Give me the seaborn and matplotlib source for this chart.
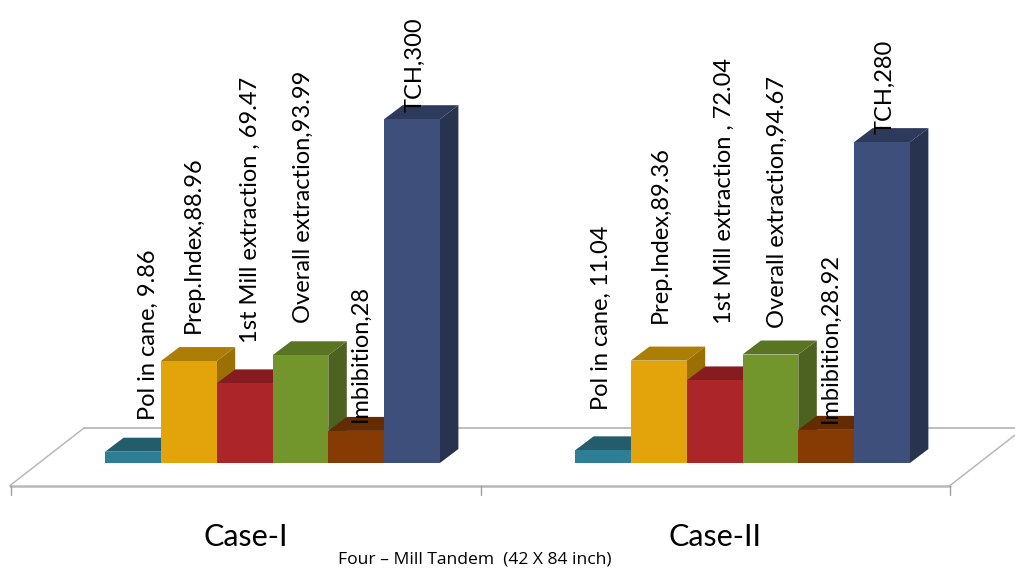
import matplotlib
matplotlib.use("Agg")
import matplotlib.pyplot as plt
from matplotlib.patches import Polygon
import pandas as pd
import seaborn as sns

# Measured series, one list per case
cases = ["Case-I", "Case-II"]
series = ["Pol in cane", "Prep.Index", "1st Mill extraction", "Overall extraction", "Imbibition", "TCH"]
case1_values = [9.86, 88.96, 69.47, 93.99, 28, 300]
case2_values = [11.04, 89.36, 72.04, 94.67, 28.92, 280]
case1_labels = ["Pol in cane, 9.86", "Prep.Index,88.96", "1st Mill extraction , 69.47",
                "Overall extraction,93.99", "Imbibition,28", "TCH,300"]
case2_labels = ["Pol in cane, 11.04", "Prep.Index,89.36", "1st Mill extraction , 72.04",
                "Overall extraction,94.67", "Imbibition,28.92", "TCH,280"]
footer = "Four – Mill Tandem  (42 X 84 inch)"

# Face colours for each series
front_colors = ["#2E7F95", "#E3A30A", "#AC2529", "#72962B", "#873B04", "#3D4F7A"]
top_colors = ["#235D6C", "#AD7E05", "#861C1F", "#5A7522", "#652C03", "#2D3A5C"]
side_colors = ["#1E5060", "#9A7004", "#701719", "#4D6120", "#552402", "#28334F"]

# Pixel layout of the 1015x569 canvas
W, H = 1015, 569
BASE_Y, PX_PER_UNIT = 463.0, 1.146
FIRST_X, GROUP_STEP = 272.5, 470.0
BAR_W = 55.8
DEPTH_X, DEPTH_Y = 18.5, 14.0
label_x = [[148, 193, 250, 303, 360, 415], [601, 660, 724, 777, 830, 885]]
label_bottom = [[420, 333, 343, 323, 422, 112], [410, 323, 324, 328, 423, 134]]


def to_x(px):
    return (px - FIRST_X) / GROUP_STEP


def to_y(py):
    return (BASE_Y - py) / PX_PER_UNIT


plt.rcParams["font.family"] = ["Lato", "DejaVu Sans"]
sns.set_theme(style="white", rc={"font.family": ["Lato", "DejaVu Sans"]})

df = pd.DataFrame({
    "case": [c for c in cases for _ in series],
    "series": series * len(cases),
    "value": case1_values + case2_values,
})

fig = plt.figure(figsize=(W / 100, H / 100), dpi=100)
ax = fig.add_axes([0, 0, 1, 1])
sns.barplot(data=df, x="case", y="value", hue="series", order=cases, hue_order=series,
            palette=front_colors, saturation=1, width=6 * BAR_W / GROUP_STEP,
            dodge=True, gap=0, legend=False, ax=ax, linewidth=0, err_kws={"linewidth": 0})
ax.set_xlim(to_x(0), to_x(W))
ax.set_ylim(to_y(H), to_y(0))
ax.set_axis_off()

# Chart floor in receding perspective, with category ticks along its front edge
floor_color = "#B8B8B8"
ax.plot([to_x(10), to_x(950)], [to_y(485.5)] * 2, color=floor_color, lw=1.8, zorder=1)
ax.plot([to_x(84), to_x(1015)], [to_y(428)] * 2, color=floor_color, lw=1.3, zorder=1)
ax.plot([to_x(10), to_x(84)], [to_y(485.5), to_y(428)], color=floor_color, lw=1.1, zorder=1)
ax.plot([to_x(950), to_x(1015)], [to_y(485.5), to_y(435)], color=floor_color, lw=1.1, zorder=1)
for tick_x in (10.5, 481, 950):
    ax.plot([to_x(tick_x)] * 2, [to_y(485.5), to_y(495)], color="#A0A0A0", lw=1, zorder=1)

# Extrude every bar: side and top faces come from the bar's own geometry
dx = DEPTH_X / GROUP_STEP
dy = DEPTH_Y / PX_PER_UNIT
for i, container in enumerate(ax.containers):
    for bar in container:
        x0, x1 = bar.get_x(), bar.get_x() + bar.get_width()
        h = bar.get_height()
        z = 2 + i
        ax.add_patch(Polygon([(x1, 0), (x1 + dx, dy), (x1 + dx, h + dy), (x1, h)],
                             closed=True, fc=side_colors[i], ec="none", zorder=z))
        ax.add_patch(Polygon([(x0, h), (x0 + dx, h + dy), (x1 + dx, h + dy), (x1, h)],
                             closed=True, fc=top_colors[i], ec="none", zorder=z + 0.1))
        bar.set_zorder(z + 0.2)

# Rotated data labels
for labels, xs, bottoms in zip([case1_labels, case2_labels], label_x, label_bottom):
    for text, px, py in zip(labels, xs, bottoms):
        fig.text(px / W, 1 - py / H, text, rotation=90, ha="center", va="bottom",
                 fontsize=17, color="black", zorder=20)

for name, px in zip(cases, (245.5, 715)):
    fig.text(px / W, 1 - 537 / H, name, ha="center", va="center", fontsize=22, color="black")
fig.text(474.5 / W, 1 - 559 / H, footer, ha="center", va="center", fontsize=12.6,
         color="black", family=["Open Sans", "DejaVu Sans"])

fig.savefig("out.png", dpi=100, facecolor="white")
